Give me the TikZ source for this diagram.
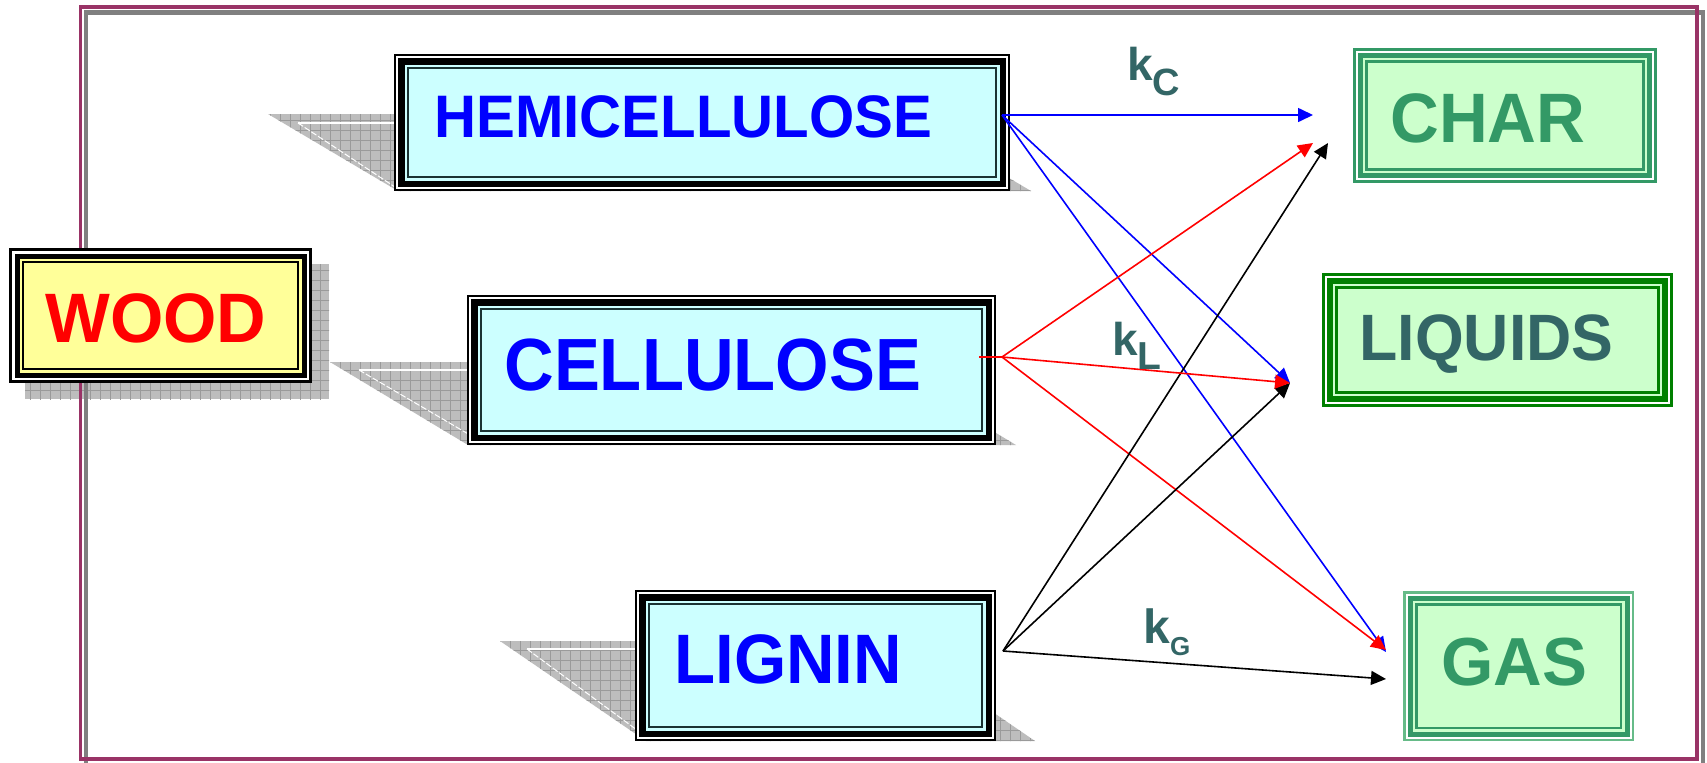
\documentclass[tikz,border=0pt]{standalone}
\usepackage{fontspec}
\setmainfont{Liberation Sans}
\usetikzlibrary{arrows.meta,fit}
\definecolor{framemag}{HTML}{993366}
\definecolor{framegray}{HTML}{808080}
\definecolor{cyanbg}{HTML}{CCFFFF}
\definecolor{darkin}{HTML}{1A3333}
\definecolor{yellowbg}{HTML}{FFFF99}
\definecolor{greenA}{HTML}{339966}
\definecolor{greenAl}{HTML}{66BB88}
\definecolor{greenB}{HTML}{008000}
\definecolor{lgreen}{HTML}{CCFFCC}
\definecolor{tealtxt}{HTML}{336666}
\definecolor{shadowgray}{HTML}{BDBDBD}
\definecolor{gridgray}{HTML}{9A9A9A}
\newcommand\nestbox[5]{%
  \foreach \dd/\cc in {#5} {\fill[fill=\cc] ({#1+\dd},{#2+\dd}) rectangle ({#3-\dd},{#4-\dd});}}
\newcommand\gridshadow[1]{%
  \begin{scope}
    \fill[shadowgray] #1;
    \clip #1;
    \foreach \g in {0,10,...,1700} {\draw[gridgray,line width=0.35pt] (\g,0) -- (\g,770);}
    \foreach \g in {0,10,...,770} {\draw[gridgray,line width=0.35pt] (0,\g) -- (1710,\g);}
  \end{scope}}
\tikzset{
  conn/.style={line width=0.8pt,-{Triangle[length=7.5pt,width=7pt]}},
  lbl/.style={anchor=base west,inner sep=0pt},
  boxfit/.style={inner sep=0pt,draw=none}
}
\begin{document}
\begin{tikzpicture}[x=0.5pt,y=-0.5pt]
\useasboundingbox (0,0) rectangle (1707,762);
\fill[white] (0,0) rectangle (1707,762);

% shadows
\gridshadow{(25,264) rectangle (329,399)}
\gridshadow{(268,114) -- (901,114) -- (1031,191) -- (398,191) -- cycle}
\gridshadow{(330,362) -- (878,362) -- (1016,445) -- (468,445) -- cycle}
\gridshadow{(500,641) -- (889,641) -- (1035,741) -- (646,741) -- cycle}
\draw[white,line width=0.6pt] (298,123) -- (400,123);
\draw[white,line width=0.5pt,dash pattern=on 3pt off 1pt] (298,123) -- (395,187);
\draw[white,line width=0.6pt] (359,370) -- (470,370);
\draw[white,line width=0.5pt,dash pattern=on 3pt off 1pt] (359,370) -- (470,435);
\draw[white,line width=0.6pt] (527,649) -- (640,649);
\draw[white,line width=0.5pt,dash pattern=on 3pt off 1pt] (527,649) -- (637,730);

% frame
\draw[framegray,line width=2.3pt] (86,12.5) rectangle (1703,765);
\draw[framemag,line width=1.9pt] (80.5,6.7) rectangle (1697,759);

% boxes
\nestbox{9}{248}{312}{383}{0/black,3/white,5.5/black,10.5/yellowbg,13/black,15/yellowbg}
\node[boxfit,fit={(9,248) (312,383)}] (wood) {};
\nestbox{394}{54}{1010}{191}{0/black,2/white,4/black,10.5/cyanbg,13/darkin,15/cyanbg}
\node[boxfit,fit={(394,54) (1010,191)}] (hemi) {};
\nestbox{467}{295}{996}{445}{0/black,2/white,4/black,10.5/cyanbg,13/darkin,15/cyanbg}
\node[boxfit,fit={(467,295) (996,445)}] (cell) {};
\nestbox{635}{590}{996}{741}{0/black,2/white,4/black,10.5/cyanbg,13/darkin,15/cyanbg}
\node[boxfit,fit={(635,590) (996,741)}] (lig) {};
\nestbox{1353}{48}{1657}{183}{0/greenA,3/white,4.7/greenA,9.7/lgreen,12.4/greenA,14.7/lgreen}
\node[boxfit,fit={(1353,48) (1657,183)}] (char) {};
\nestbox{1322}{273}{1673}{407}{0/greenB,3.3/white,5/greenB,11/lgreen,13.3/greenB,15.6/lgreen}
\node[boxfit,fit={(1322,273) (1673,407)}] (liq) {};
\nestbox{1403}{591}{1634}{741}{0/greenAl,2.5/white,4.5/greenA,9.5/lgreen,12.2/greenA,14.5/lgreen}
\node[boxfit,fit={(1403,591) (1634,741)}] (gas) {};

% box texts
\node[lbl,text=red] (woodlabel) at (45,342) {\fontsize{35pt}{40pt}\selectfont\bfseries\scalebox{0.98}[1]{WOOD}};
\node[lbl,text=blue] (hemilabel) at (434,137) {\fontsize{30pt}{34pt}\selectfont\bfseries\scalebox{0.97}[1]{HEMICELLULOSE}};
\node[lbl,text=blue] (celllabel) at (504,390) {\fontsize{37pt}{42pt}\selectfont\bfseries\scalebox{0.93}[1]{CELLULOSE}};
\node[lbl,text=blue] (liglabel) at (674,683) {\fontsize{35pt}{40pt}\selectfont\bfseries\scalebox{0.96}[1]{LIGNIN}};
\node[lbl,text=greenA] (charlabel) at (1390,142) {\fontsize{35pt}{40pt}\selectfont\bfseries\scalebox{0.965}[1]{CHAR}};
\node[lbl,text=tealtxt] (liqlabel) at (1359,360) {\fontsize{32.8pt}{37pt}\selectfont\bfseries\scalebox{0.955}[1]{LIQUIDS}};
\node[lbl,text=greenA] (gaslabel) at (1441,685) {\fontsize{34pt}{38pt}\selectfont\bfseries\scalebox{0.99}[1]{GAS}};

% connector coordinates
\coordinate (hemiout) at (1002,115);
\coordinate (cellstub) at (979,357);
\coordinate (cellout) at (1002,357);
\coordinate (ligout) at (1003,651);
\coordinate (charinA) at (1313,115);
\coordinate (charinB) at (1313,143);
\coordinate (charinC) at (1328,143);
\coordinate (liqin) at (1290,383);
\coordinate (gasinA) at (1386,652);
\coordinate (gasinB) at (1386,650);
\coordinate (gasinC) at (1386,679);

% arrows
\draw[conn,blue] (hemiout) -- (charinA);
\draw[conn,blue] (hemiout) -- (gasinA);
\draw[conn,blue] (hemiout) -- (liqin);
\draw[red,line width=0.8pt] (cellstub) -- (cellout);
\draw[conn,red] (cellout) -- (charinB);
\draw[conn,red] (cellout) -- (gasinB);
\draw[conn,black] (ligout) -- (charinC);
\draw[conn,black] (ligout) -- (liqin);
\draw[conn,black] (ligout) -- (gasinC);
\draw[conn,red] (cellout) -- (liqin);

% rate labels
\node[lbl,text=tealtxt] (kc) at (1127,80) {\fontsize{23pt}{26pt}\selectfont\bfseries k\raisebox{-7.5pt}{\fontsize{19pt}{21pt}\selectfont C}};
\node[lbl,text=tealtxt] (kl) at (1112,355) {\fontsize{23pt}{26pt}\selectfont\bfseries k\raisebox{-7pt}{\fontsize{19.5pt}{21pt}\selectfont L}};
\node[lbl,text=tealtxt] (kg) at (1143,643) {\fontsize{24pt}{27pt}\selectfont\bfseries k\raisebox{-6pt}{\fontsize{13pt}{15pt}\selectfont G}};
\end{tikzpicture}
\end{document}
